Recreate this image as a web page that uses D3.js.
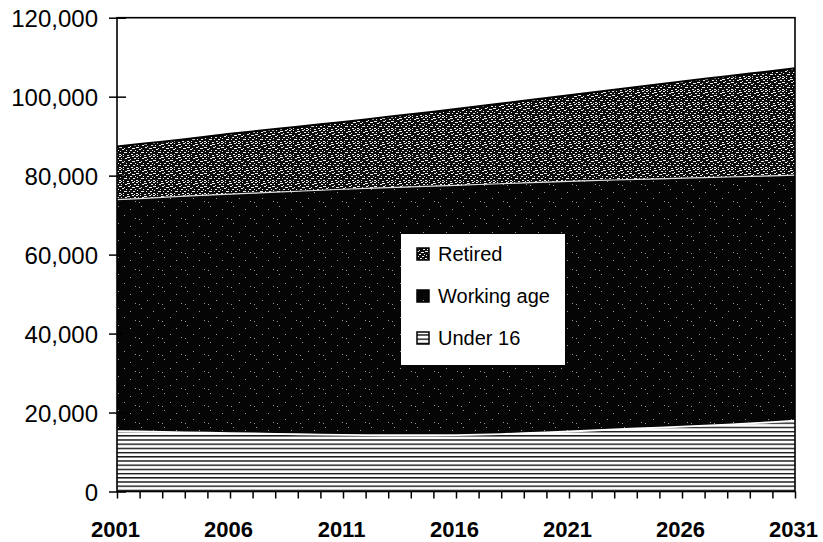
<!DOCTYPE html>
<html>
<head>
<meta charset="utf-8">
<script src="https://cdn.jsdelivr.net/npm/d3@7"></script>
<style>
  html, body { margin: 0; padding: 0; background: #fff; }
  svg { display: block; }
</style>
</head>
<body>
<svg id="chart" width="823" height="542"></svg>
<script>
// ---------- data ----------
const years = [2001,2002,2003,2004,2005,2006,2007,2008,2009,2010,
               2011,2012,2013,2014,2015,2016,2017,2018,2019,2020,
               2021,2022,2023,2024,2025,2026,2027,2028,2029,2030,2031];
const under16 = [15300,15200,15100,15000,14900,14800,14700,14600,14500,14400,
                 14350,14300,14250,14250,14250,14300,14400,14550,14750,14950,
                 15200,15450,15700,15950,16200,16450,16700,16950,17250,17550,17950];
const workingAge = [58600,59000,59400,59800,60150,60500,60850,61200,61550,61900,
                    62200,62450,62700,62900,63100,63250,63350,63400,63400,63400,
                    63350,63300,63200,63100,63000,62900,62800,62700,62550,62400,62200];
const retired = [13500,13800,14100,14400,14850,15300,15650,16000,16350,16700,
                 17050,17500,17950,18400,18850,19300,19800,20300,20800,21300,
                 21800,22300,22850,23400,23950,24500,25050,25550,26050,26550,27050];
const seriesNames = ["Under 16", "Working age", "Retired"];
const legendOrder = ["Retired", "Working age", "Under 16"];
const xTickLabels = [2001, 2006, 2011, 2016, 2021, 2026, 2031];
const yTicks = [0, 20000, 40000, 60000, 80000, 100000, 120000];

// ---------- layout ----------
const plotL = 117, plotR = 795, plotT = 17.7, plotB = 491.5;
const svg = d3.select("#chart");

const x = d3.scaleLinear().domain([2001, 2031]).range([plotL, plotR]);
const y = d3.scaleLinear().domain([0, 120000]).range([plotB, plotT]);

// ---------- patterns ----------
const defs = svg.append("defs");
// Retired: dark speckle (fixed texture tile)
const pr = defs.append("pattern").attr("id", "pRetired")
  .attr("patternUnits", "userSpaceOnUse").attr("width", 17).attr("height", 13);
pr.append("rect").attr("width", 17).attr("height", 13).attr("fill", "#0d0d0d");
const rDots = [[0,0,2],[4,0,1],[8,1,3],[13,0,2],[2,2,1],[6,2,2],[11,3,1],[15,2,2],
               [0,4,3],[5,5,1],[9,4,2],[13,5,3],[3,6,2],[7,7,1],[11,7,2],[16,7,1],
               [1,8,1],[5,9,3],[10,9,1],[14,9,2],[0,11,2],[4,11,1],[8,12,2],[12,11,2],
               [15,12,1],[2,12,1]];
rDots.forEach(d => pr.append("rect").attr("x", d[0]).attr("y", d[1])
  .attr("width", d[2]).attr("height", 1).attr("fill", "#eee"));
// Working age: almost black with sparse specks
const pw = defs.append("pattern").attr("id", "pWorking")
  .attr("patternUnits", "userSpaceOnUse").attr("width", 23).attr("height", 17);
pw.append("rect").attr("width", 23).attr("height", 17).attr("fill", "#050505");
[[3,2],[15,5],[9,11],[20,14],[1,15]].forEach(d => pw.append("rect")
  .attr("x", d[0]).attr("y", d[1]).attr("width", 1).attr("height", 1).attr("fill", "#999"));
// Under 16: horizontal stripes
const pu = defs.append("pattern").attr("id", "pUnder")
  .attr("patternUnits", "userSpaceOnUse").attr("width", 10).attr("height", 4.2);
pu.append("rect").attr("width", 10).attr("height", 4.2).attr("fill", "#fff");
pu.append("rect").attr("y", 2.5).attr("width", 10).attr("height", 1.4).attr("fill", "#111");

const fills = { "Under 16": "url(#pUnder)", "Working age": "url(#pWorking)", "Retired": "url(#pRetired)" };

// ---------- stack ----------
const table = years.map((yr, i) => ({
  year: yr, "Under 16": under16[i], "Working age": workingAge[i], "Retired": retired[i]
}));
const stack = d3.stack().keys(seriesNames)(table);

const area = d3.area()
  .x(d => x(d.data.year))
  .y0(d => y(d[0]))
  .y1(d => y(d[1]));
const topLine = d3.line()
  .x(d => x(d.data.year))
  .y(d => y(d[1]));

svg.append("g").selectAll("path").data(stack).join("path")
  .attr("d", area)
  .attr("fill", d => fills[d.key]);

// boundary lines
svg.append("path").datum(stack[0]).attr("d", topLine)
  .attr("fill", "none").attr("stroke", "#fff").attr("stroke-width", 1.8);
svg.append("path").datum(stack[1]).attr("d", topLine)
  .attr("fill", "none").attr("stroke", "#ddd").attr("stroke-width", 1.2);
svg.append("path").datum(stack[2]).attr("d", topLine)
  .attr("fill", "none").attr("stroke", "#000").attr("stroke-width", 2);

// ---------- frame ----------
svg.append("rect").attr("x", plotL).attr("y", plotT)
  .attr("width", plotR - plotL).attr("height", plotB - plotT)
  .attr("fill", "none").attr("stroke", "#000").attr("stroke-width", 1.6);

// ---------- axes ----------
const yAxis = svg.append("g").attr("transform", `translate(${plotL},0)`)
  .call(d3.axisLeft(y).tickValues(yTicks).tickFormat(d3.format(",")).tickSize(8).tickPadding(0));
yAxis.select(".domain").remove();
yAxis.selectAll(".tick line").attr("x1", -8).attr("x2", 9)
  .attr("stroke", "#000").attr("stroke-width", 1.5);
yAxis.selectAll(".tick text")
  .attr("x", -19).attr("dy", "0.36em")
  .attr("font-family", "Arial, 'Liberation Sans', sans-serif")
  .attr("font-size", 24).attr("fill", "#000");

const xAxis = svg.append("g").attr("transform", `translate(0,${plotB})`)
  .call(d3.axisBottom(x).tickValues(years)
    .tickFormat(d => xTickLabels.includes(d) ? String(d) : "").tickSize(7));
xAxis.select(".domain").remove();
xAxis.selectAll(".tick line").attr("stroke", "#000").attr("stroke-width", 1.5);
xAxis.selectAll(".tick text")
  .attr("y", 45.5).attr("dy", 0).attr("x", -2)
  .attr("font-family", "Arial, 'Liberation Sans', sans-serif")
  .attr("font-weight", "bold").attr("font-size", 22).attr("fill", "#000");

// ---------- legend ----------
const lg = svg.append("g");
lg.append("rect").attr("x", 401).attr("y", 234).attr("width", 164).attr("height", 131)
  .attr("fill", "#fff");
const legendY = d3.scalePoint().domain(legendOrder).range([254, 338]);
legendOrder.forEach(name => {
  const cy = legendY(name);
  lg.append("rect").attr("x", 417).attr("y", cy - 6).attr("width", 12).attr("height", 12)
    .attr("fill", fills[name]).attr("stroke", "#000").attr("stroke-width", 1.5);
  lg.append("text").attr("x", 438).attr("y", cy + 7)
    .attr("font-family", "Arial, 'Liberation Sans', sans-serif")
    .attr("font-size", 20).attr("fill", "#000").text(name);
});
</script>
</body>
</html>
